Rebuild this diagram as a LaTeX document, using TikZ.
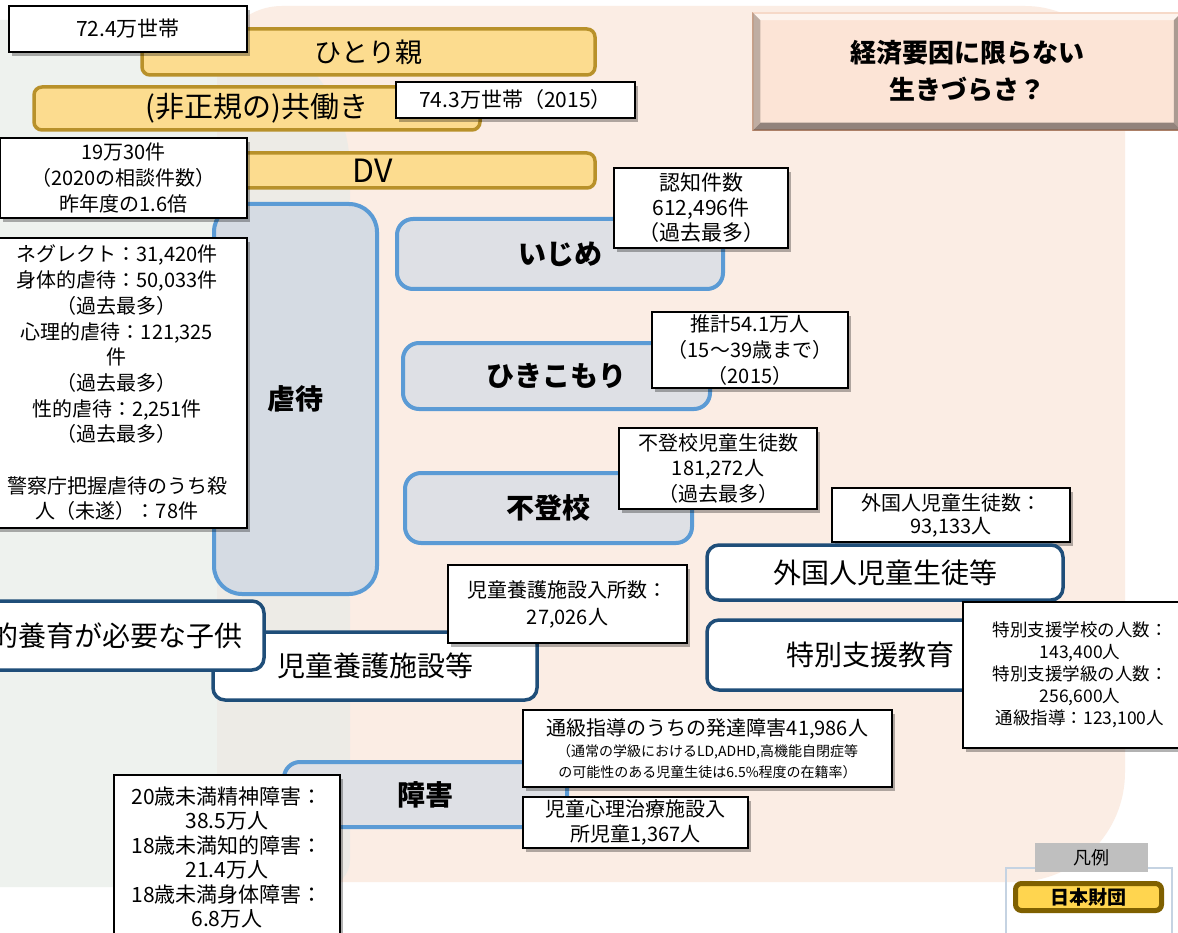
\documentclass[tikz,border=0pt]{standalone}
\usepackage{fontspec}
\setmainfont{Noto Sans CJK JP}
\usetikzlibrary{shadows}
\definecolor{greenbg}{HTML}{EEF2EE}
\definecolor{peachbg}{HTML}{FBEDE4}
\definecolor{overbg}{HTML}{EDEBE6}
\definecolor{goldfill}{HTML}{FCDC8F}
\definecolor{goldline}{HTML}{B8912A}
\definecolor{bluel}{HTML}{5B9BD5}
\definecolor{grayA}{HTML}{D5DBE3}
\definecolor{grayB}{HTML}{DEE0E5}
\definecolor{darkblue}{HTML}{1F4E79}
\definecolor{keifill}{HTML}{FCE4D6}
\definecolor{keiline}{HTML}{E9A077}
\definecolor{legline}{HTML}{C5D3E2}
\definecolor{hanreigray}{HTML}{BFBFBF}
\definecolor{zaidanfill}{HTML}{FFD54F}
\definecolor{zaidanline}{HTML}{7F6000}
\tikzset{
  info/.style={draw=black, line width=1.6pt, fill=white, align=center, inner sep=0pt,
    drop shadow={shadow xshift=3pt, shadow yshift=-4pt, opacity=0.3, fill=black},
    font=\fontsize{20}{25.7}\selectfont},
  goldbar/.style={draw=goldline, line width=3.5pt, fill=goldfill, rounded corners=8pt,
    inner sep=0pt, font=\fontsize{27}{32}\selectfont},
  bluebox/.style={draw=bluel, line width=4pt, fill=grayB, rounded corners=16pt,
    inner sep=0pt, font=\fontsize{28}{34}\selectfont\bfseries},
  darkbox/.style={draw=darkblue, line width=3.5pt, fill=white, rounded corners=12pt,
    inner sep=0pt, font=\fontsize{28}{34}\selectfont},
  wh/.style 2 args={minimum width=#1pt, minimum height=#2pt},
}
\begin{document}
\begin{tikzpicture}[x=1pt,y=-1pt]
\useasboundingbox (0,0) rectangle (1178,933);
\clip (0,0) rectangle (1178,933);
\fill[white] (0,0) rectangle (1178,933);
% background shapes
\def\greenpath{(-20,20) -- (200,20) .. controls (283,20) and (350,87) .. (350,170) -- (350,860) .. controls (350,875) and (338,887) .. (323,887) -- (-20,887) -- cycle}
\def\peachpath{(217,71) .. controls (217,35) and (246,6) .. (282,6) -- (1025,6) .. controls (1080,6) and (1125,51) .. (1125,106) -- (1125,772) .. controls (1125,833) and (1076,882) .. (1015,882) -- (257,882) .. controls (235,882) and (217,864) .. (217,842) -- cycle}
\fill[greenbg] \greenpath;
\fill[peachbg] \peachpath;
\begin{scope}
  \clip \greenpath;
  \fill[overbg] \peachpath;
\end{scope}

% top bars
\node[goldbar, wh={453}{46}] (hitori) at (368.5,52) {ひとり親};
\node[info, wh={238}{46}, font=\fontsize{21}{26}\selectfont] (b724) at (128,29) {72.4万世帯};
\node[goldbar, wh={446}{43}, font=\fontsize{29}{32}\selectfont] (tomo) at (257,108.5) {(非正規の)共働き};
\node[info, wh={239}{36}, font=\fontsize{21}{26}\selectfont] (b743) at (515.5,100) {74.3万世帯（2015）};
\node[goldbar, wh={445}{35}, font=\fontsize{32}{34}\selectfont] (dv) at (372.5,170.5) {DV};

% abuse
\node[bluebox, fill=grayA, rounded corners=28pt, wh={163}{390}] (gyaku) at (295.5,399) {虐待};
\node[info, wh={247}{80}, font=\fontsize{20}{26}\selectfont] (b19) at (123.5,178) {19万30件\\（2020の相談件数）\\昨年度の1.6倍};
\node[info, wh={260}{290}] (neglect) at (117,383) {ネグレクト：31,420件\\身体的虐待：50,033件\\（過去最多）\\心理的虐待：121,325\\件\\（過去最多）\\性的虐待：2,251件\\（過去最多）\\[25.7pt]警察庁把握虐待のうち殺\\人（未遂）：78件};

% middle column
\node[bluebox, wh={326}{70}] (ijime) at (560,254) {いじめ};
\node[info, wh={174}{80}, font=\fontsize{21}{25}\selectfont] (ninchi) at (701,208) {認知件数\\612,496件\\（過去最多）};
\node[bluebox, wh={307}{66}] (hiki) at (556.5,376) {ひきこもり};
\node[info, wh={196}{76}, font=\fontsize{20}{26}\selectfont] (suikei) at (750,350) {推計54.1万人\\（15～39歳まで）\\（2015）};
\node[bluebox, wh={287}{70}] (futoko) at (548.5,508) {不登校};
\node[info, wh={198}{81}] (futokonum) at (718,468.5) {不登校児童生徒数\\181,272人\\（過去最多）};

% right column
\node[info, wh={238}{54}, font=\fontsize{20}{23}\selectfont] (gaikokunum) at (951,515) {外国人児童生徒数：\\93,133人};
\node[darkbox, wh={356}{55}] (gaikoku) at (885,572.5) {外国人児童生徒等};
\node[darkbox, wh={326}{70}] (tokubetsu) at (870,655) {特別支援教育};
\node[info, wh={234}{146}, font=\fontsize{17.5}{22}\selectfont] (tokunum) at (1080,675) {特別支援学校の人数：\\143,400人\\特別支援学級の人数：\\256,600人\\通級指導：123,100人};

% care facilities
\node[darkbox, wh={324}{68}] (yogo) at (375,666) {児童養護施設等};
\node[darkbox, wh={354}{69}, text width=312pt, align=right] (shakai) at (87,635.5) {社会的養育が必要な子供};
\node[info, wh={239}{78}, font=\fontsize{20}{27}\selectfont] (yogonum) at (567.5,604) {児童養護施設入所数：\\27,026人};

% disability
\node[bluebox, wh={283}{65}] (shogai) at (425.5,794.5) {障害};
\node[info, wh={226}{165}, font=\fontsize{21}{24.5}\selectfont] (age) at (227,857.5) {20歳未満精神障害：\\38.5万人\\18歳未満知的障害：\\21.4万人\\18歳未満身体障害：\\6.8万人};
\node[info, wh={369}{77}, font=\fontsize{20}{21}\selectfont] (tsukyu) at (707.5,748.5) {通級指導のうちの発達障害41,986人\\\fontsize{14}{19}\selectfont （通常の学級におけるLD,ADHD,高機能自閉症等\\\fontsize{14}{19}\selectfont の可能性のある児童生徒は6.5\%程度の在籍率）};
\node[info, wh={225}{51}, font=\fontsize{20}{25}\selectfont] (shinri) at (635.5,822.5) {児童心理治療施設入\\所児童1,367人};

% title box
\node[draw=keiline, line width=1.5pt, fill=keifill, wh={428}{117}, align=center,
  font=\fontsize{26}{37}\selectfont\bfseries] (keizai) at (967,71.5) {経済要因に限らない\\生きづらさ？};
\fill[white, opacity=0.6] (keizai.north west) -- (keizai.north east) -- ([xshift=-8pt,yshift=-8pt]keizai.north east) -- ([xshift=8pt,yshift=-8pt]keizai.north west) -- cycle;
\fill[black!60!keifill, opacity=0.7] (keizai.south west) -- (keizai.south east) -- ([xshift=-8pt,yshift=8pt]keizai.south east) -- ([xshift=8pt,yshift=8pt]keizai.south west) -- cycle;
\fill[black!30!keifill, opacity=0.8] (keizai.north west) -- (keizai.south west) -- ([xshift=8pt,yshift=8pt]keizai.south west) -- ([xshift=8pt,yshift=-8pt]keizai.north west) -- cycle;
\fill[black!40!keifill, opacity=0.8] (keizai.north east) -- (keizai.south east) -- ([xshift=-8pt,yshift=8pt]keizai.south east) -- ([xshift=-8pt,yshift=-8pt]keizai.north east) -- cycle;

% legend
\node[draw=legline, line width=2pt, wh={166}{80}] (legframe) at (1089,908) {};
\node[fill=hanreigray, wh={113}{29}, inner sep=0pt, font=\fontsize{18}{20}\selectfont] (hanrei) at (1091.5,857.5) {凡例};
\node[draw=zaidanline, line width=5pt, fill=zaidanfill, rounded corners=6pt, wh={146}{27}, inner sep=0pt, font=\fontsize{19}{22}\selectfont\bfseries] (zaidan) at (1088.5,897) {日本財団};
\end{tikzpicture}
\end{document}
